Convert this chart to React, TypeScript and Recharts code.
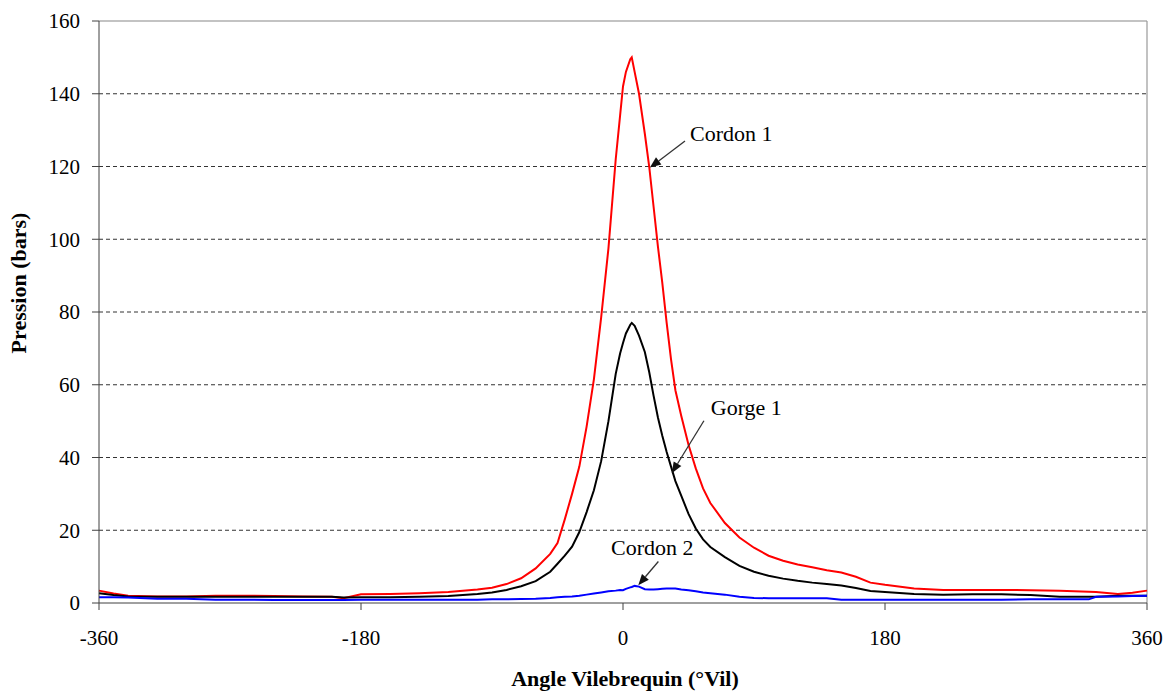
import { LineChart, Line, XAxis, YAxis, ReferenceLine, ReferenceDot } from 'recharts';

const FONT = '"Liberation Serif", "Times New Roman", serif';

// crank angle (°Vil)
const angles = [
  -360, -350, -340, -320, -300, -280, -260, -240, -220, -200, -192, -180, -160, -140, -120, -100, -90, -80, -70,
  -60, -50, -45, -40, -35, -30, -25, -20, -15, -10, -5, -2, 0, 2, 5, 6, 8, 11, 15, 18, 21, 24, 27, 30, 33, 36,
  40, 45, 50, 55, 60, 70, 80, 90, 100, 110, 120, 130, 140, 150, 160, 170, 180, 200, 220, 240, 260, 280, 300,
  320, 325, 340, 350, 360,
];

// pressures in bars
const cordon1 = [
  3.4, 2.6, 2.0, 1.8, 1.8, 2.0, 2.0, 1.9, 1.8, 1.7, 1.3, 2.4, 2.5, 2.7, 3.0, 3.7, 4.2, 5.2, 6.8,
  9.5, 13.5, 16.5, 23, 30, 37.5, 48.5, 61.5, 78.5, 97.5, 122, 134, 142, 146, 149.5, 150, 146, 140, 129, 120, 109, 98, 88, 77, 67, 58.5,
  51.5, 43.5, 37, 31.5, 27.5, 22, 18, 15.2, 13, 11.6, 10.6, 9.8, 9.0, 8.4, 7.2, 5.6, 5.0, 4.0, 3.6, 3.6, 3.6, 3.5, 3.4,
  3.1, 3.0, 2.5, 2.8, 3.4,
];

const gorge1 = [
  2.7, 2.2, 1.8, 1.7, 1.7, 1.7, 1.7, 1.7, 1.7, 1.7, 1.5, 1.6, 1.6, 1.7, 1.9, 2.5, 2.9, 3.6, 4.6,
  6.0, 8.6, 10.8, 13, 15.5, 19.5, 25, 31, 39, 50, 63, 68.6, 71.5, 74.1, 76.5, 77, 76.2, 73.5, 69, 63.5, 57, 51, 46, 41.5, 37.5, 33.5,
  29.5, 24.5, 20.5, 17.5, 15.4, 12.6, 10.2, 8.6, 7.5, 6.7, 6.1, 5.6, 5.2, 4.8, 4.1, 3.3, 3.0, 2.5, 2.3, 2.4, 2.4, 2.2, 1.7,
  1.7, 1.7, 2.0, 2.0, 2.0,
];

const cordon2 = [
  1.6, 1.6, 1.5, 1.2, 1.2, 0.9, 0.9, 0.8, 0.8, 0.8, 0.8, 0.9, 0.9, 0.9, 0.9, 0.9, 1.0, 1.0, 1.1,
  1.2, 1.4, 1.6, 1.7, 1.8, 2.0, 2.3, 2.6, 2.9, 3.2, 3.4, 3.6, 3.5, 3.9, 4.3, 4.4, 4.7, 4.5, 3.8, 3.7, 3.7, 3.8, 3.9, 4.0, 4.0, 4.0,
  3.7, 3.5, 3.2, 2.9, 2.7, 2.3, 1.7, 1.4, 1.3, 1.3, 1.3, 1.3, 1.3, 0.9, 0.9, 0.9, 0.9, 0.9, 0.9, 0.9, 0.9, 1.0, 1.0,
  1.0, 1.7, 1.8, 1.9, 2.0,
];

const xTicks = [-360, -180, 0, 180, 360];
const yTicks = [0, 20, 40, 60, 80, 100, 120, 140, 160];
const gridValues = [20, 40, 60, 80, 100, 120, 140];

// annotations: text anchor and arrow, in data units
const notes = [
  { text: 'Cordon 1', tx: 46, ty: 127, ax1: 42.6, ay1: 127, ax2: 18.5, ay2: 119.7 },
  { text: 'Gorge 1', tx: 60.3, ty: 51.7, ax1: 55.6, ay1: 50.1, ax2: 33.5, ay2: 35.7 },
  { text: 'Cordon 2', tx: -8.2, ty: 13.1, ax1: 24.3, ay1: 11.4, ax2: 10.5, ay2: 4.9 },
];

const data = angles.map((a, i) => ({ angle: a, c1: cordon1[i], g1: gorge1[i], c2: cordon2[i] }));

function Arrow(props: any) {
  const { x1, y1, x2, y2 } = props;
  const dx = x2 - x1;
  const dy = y2 - y1;
  const len = Math.sqrt(dx * dx + dy * dy) || 1;
  const ux = dx / len;
  const uy = dy / len;
  const head = 11;
  const half = 4.5;
  const bx = x2 - ux * head;
  const by = y2 - uy * head;
  const pts = `${x2},${y2} ${bx - uy * half},${by + ux * half} ${bx + uy * half},${by - ux * half}`;
  return (
    <g>
      <line x1={x1} y1={y1} x2={bx} y2={by} stroke="#333" strokeWidth={1.3} />
      <polygon points={pts} fill="#111" />
    </g>
  );
}

export default function App() {
  return (
    <div style={{ position: 'absolute', left: 0, top: 0, background: '#fff' }}>
      <LineChart width={1167} height={693} data={data} margin={{ top: 21, right: 20, bottom: 50, left: 30 }}>
        <XAxis
          dataKey="angle"
          type="number"
          domain={[-360, 360]}
          ticks={xTicks}
          tick={{ fontSize: 21, fill: '#000', fontFamily: FONT }}
          tickSize={7}
          tickMargin={20}
          height={40}
          stroke="#404040"
          label={{
            content: () => (
              <text x={625} y={686} textAnchor="middle" fontFamily={FONT} fontWeight="bold" fontSize={22} fill="#000">
                Angle Vilebrequin (°Vil)
              </text>
            ),
          }}
        />
        <YAxis
          type="number"
          domain={[0, 160]}
          ticks={yTicks}
          tick={{ fontSize: 21, fill: '#000', fontFamily: FONT }}
          tickSize={7}
          tickMargin={12}
          width={69}
          stroke="#404040"
          label={{
            content: () => (
              <text
                x={26}
                y={283}
                transform="rotate(-90 26 283)"
                textAnchor="middle"
                fontFamily={FONT}
                fontWeight="bold"
                fontSize={22}
                fill="#000"
              >
                Pression (bars)
              </text>
            ),
          }}
        />
        {gridValues.map((v) => (
          <ReferenceLine key={v} y={v} stroke="#333" strokeWidth={1} strokeDasharray="4 3" />
        ))}
        <ReferenceLine y={160} stroke="#888" strokeWidth={1.2} />
        <ReferenceLine x={360} stroke="#999" strokeWidth={1.2} />
        <Line dataKey="c1" type="linear" stroke="#ff0000" strokeWidth={2} dot={false} isAnimationActive={false} />
        <Line dataKey="g1" type="linear" stroke="#000000" strokeWidth={2} dot={false} isAnimationActive={false} />
        <Line dataKey="c2" type="linear" stroke="#0000ff" strokeWidth={2} dot={false} isAnimationActive={false} />
        {notes.map((n) => (
          <ReferenceLine
            key={n.text + '-arrow'}
            segment={[
              { x: n.ax1, y: n.ay1 },
              { x: n.ax2, y: n.ay2 },
            ]}
            shape={Arrow}
          />
        ))}
        {notes.map((n) => (
          <ReferenceDot
            key={n.text}
            x={n.tx}
            y={n.ty}
            r={0}
            shape={(p: any) => (
              <text x={p.cx} y={p.cy} fontFamily={FONT} fontSize={22} fill="#000">
                {n.text}
              </text>
            )}
          />
        ))}
      </LineChart>
    </div>
  );
}
